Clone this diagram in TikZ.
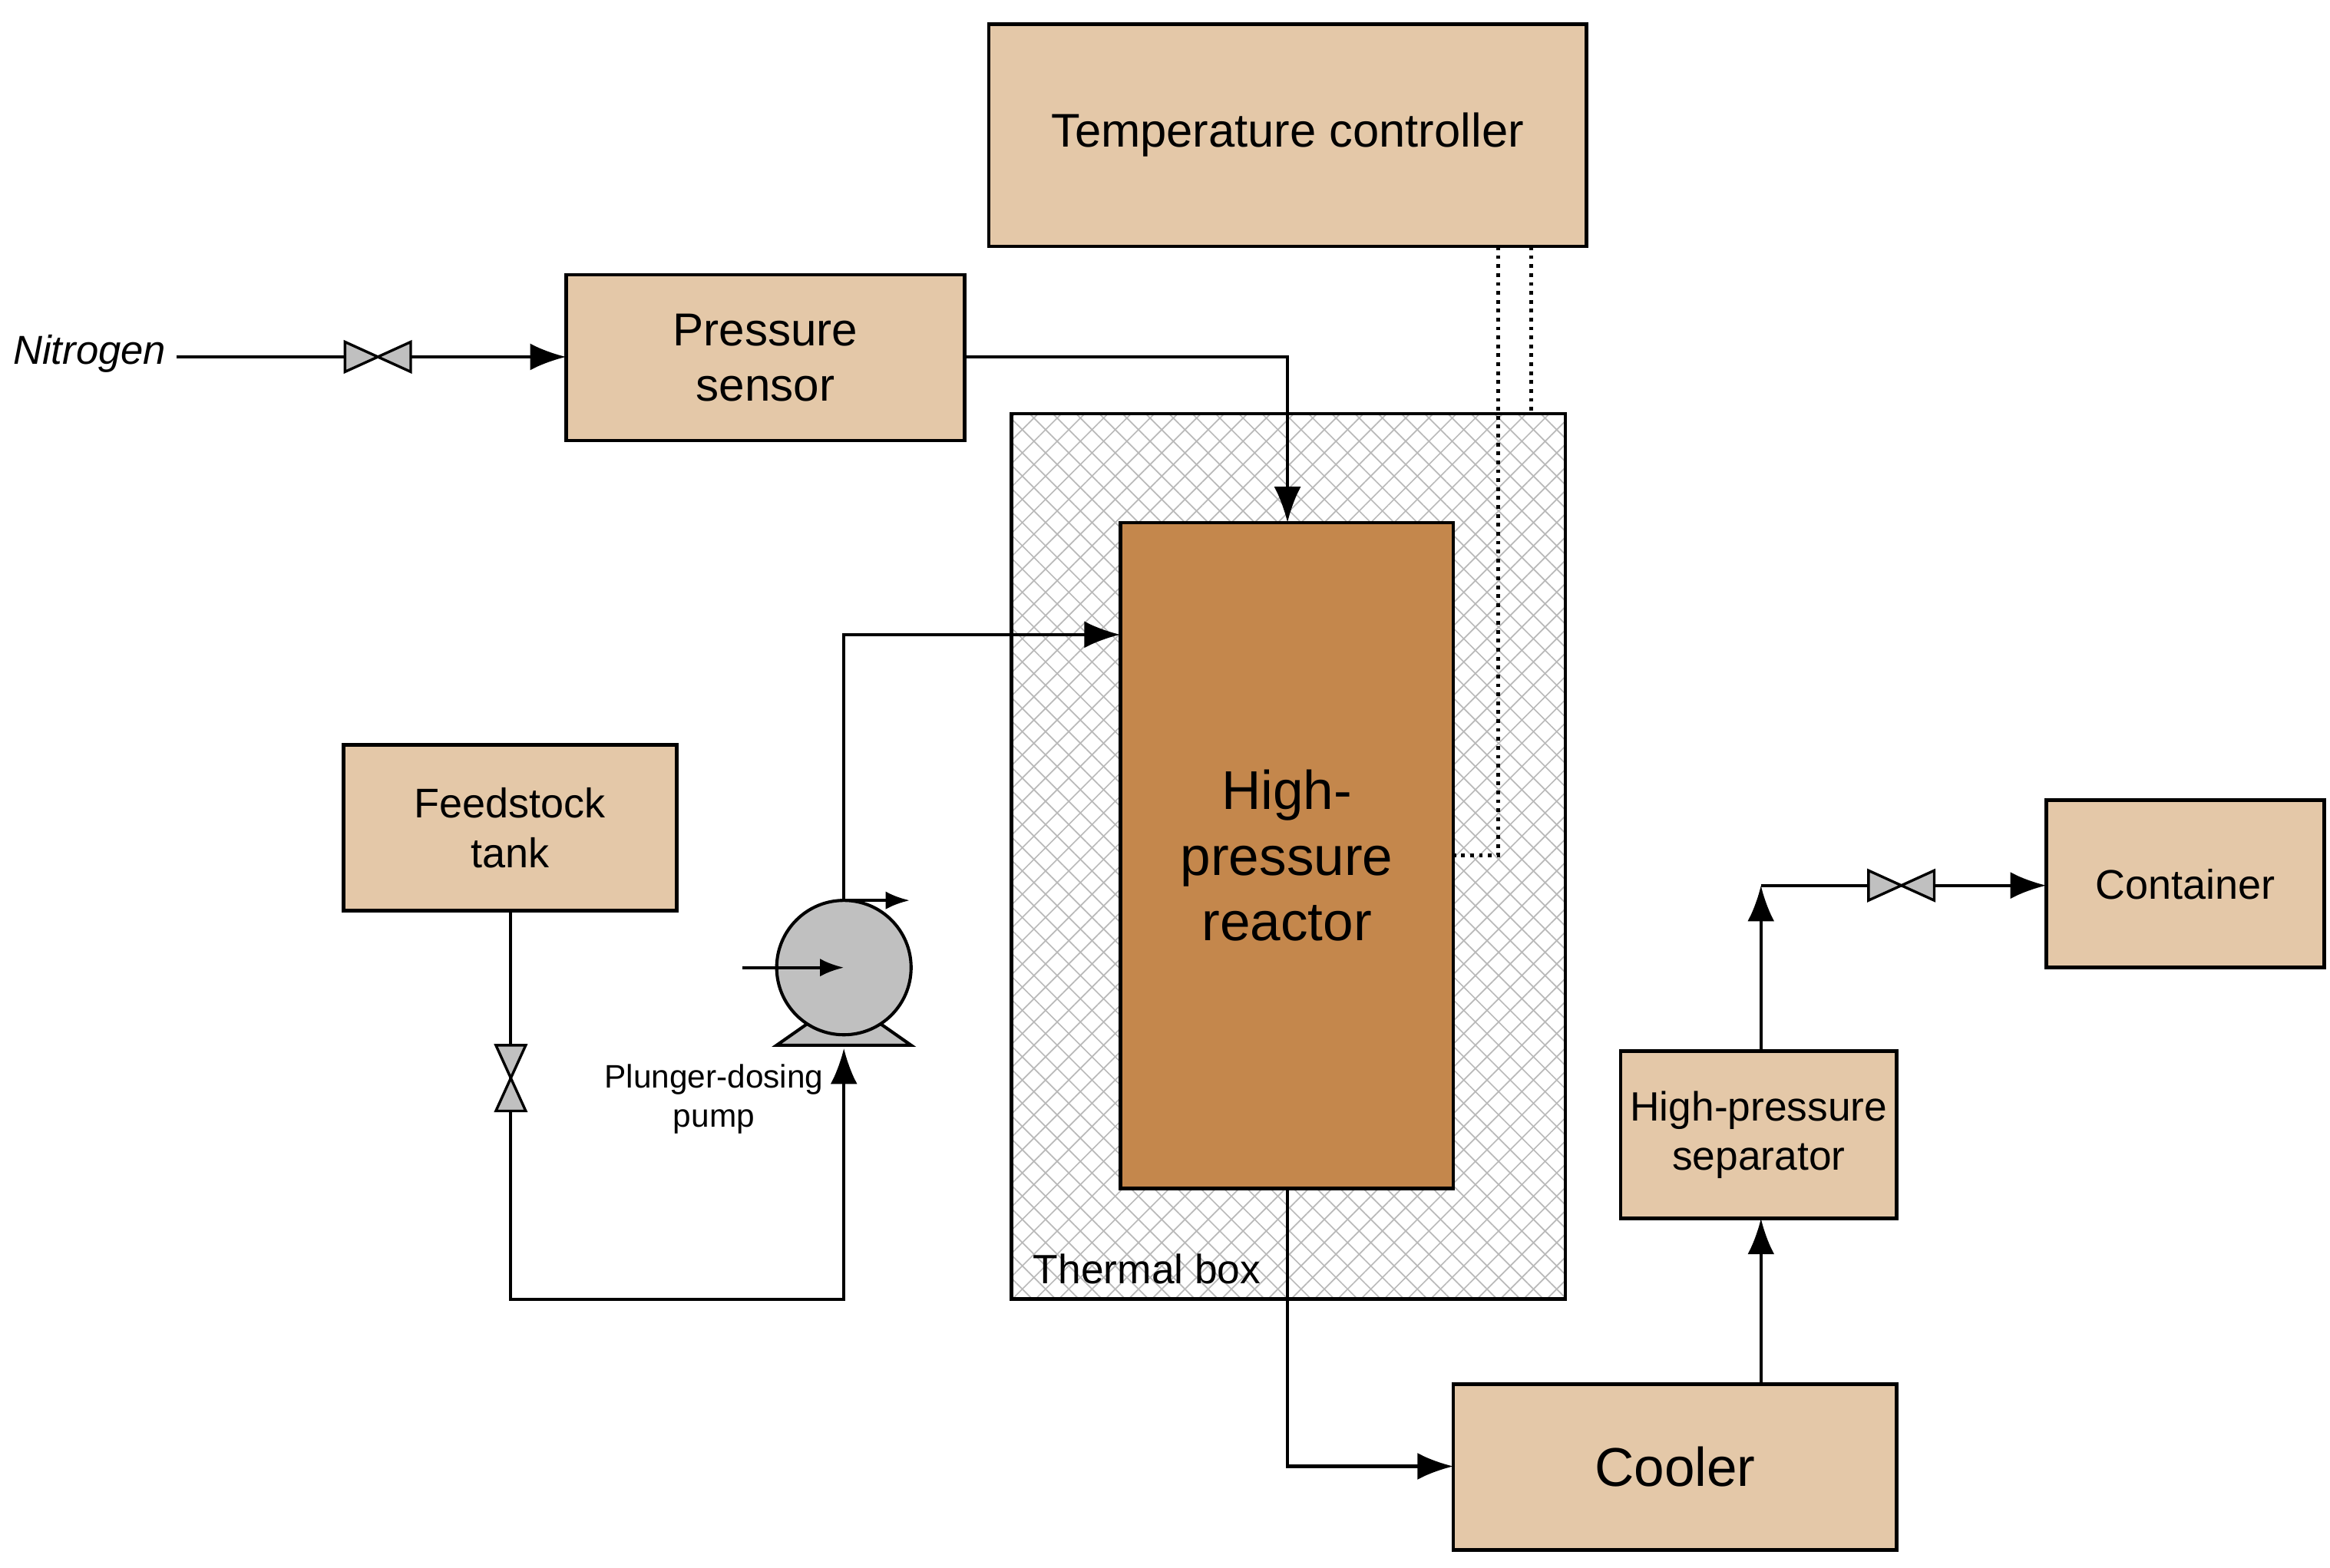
\documentclass[tikz,border=0pt]{standalone}
\usepackage{fontspec}
\setmainfont{Liberation Sans}
\usetikzlibrary{arrows.meta,patterns.meta}
\definecolor{boxc}{HTML}{E4C8A8}
\definecolor{reac}{HTML}{C4874C}
\definecolor{pumpc}{HTML}{C0C0C0}
\begin{document}
\begin{tikzpicture}[x=0.1mm,y=-0.1mm,line width=0.6pt,
  box/.style={draw,fill=boxc,line width=0.7pt},
  arr/.style={-{Latex[length=2.4mm,width=1.8mm]}},
  fs/.style={font=\fontsize{#1}{\dimexpr#1pt*12/10\relax}\selectfont,align=center}]
\useasboundingbox (0,0) rectangle (1560,1050);
\tikzset{bow/.pic={\draw[fill=pumpc,line width=0.5pt] (-22,-10)--(22,10)--(22,-10)--(-22,10)--cycle;}}
% thermal box
\fill[pattern={Lines[angle=45,distance=1.1mm,line width=0.25pt]},pattern color=gray!55] (677,277) rectangle (1048,870);
\fill[pattern={Lines[angle=-45,distance=1.1mm,line width=0.25pt]},pattern color=gray!55] (677,277) rectangle (1048,870);
\draw[line width=0.7pt] (677,277) rectangle (1048,870);
\node[fs=7.8] (tb) at (768,850) {Thermal box};
% boxes
\draw[box] (662,16) rectangle (1062,165) node[midway,fs=9] (tc) {Temperature controller};
\draw[box] (379,184) rectangle (646,295) node[midway,fs=8.8] (ps) {Pressure\\sensor};
\draw[box,fill=reac] (750,350) rectangle (973,796) node[midway,fs=10.4] (re) {High-\\pressure\\reactor};
\draw[box] (230,499) rectangle (453,610) node[midway,fs=7.9] (ft) {Feedstock\\tank};
\draw[box] (1370,536) rectangle (1556,648) node[midway,fs=7.9] (ct) {Container};
\draw[box] (1085,704) rectangle (1270,816) node[midway,fs=7.8] (hs) {High-pressure\\separator};
\draw[box] (973,927) rectangle (1270,1038) node[midway,fs=10.4] (co) {Cooler};
% coordinates
\coordinate (ps-r) at (646,239); \coordinate (ps-l) at (379,239);
\coordinate (re-t) at (862,350); \coordinate (re-b) at (862,796);
\coordinate (re-l) at (750,425); \coordinate (re-r) at (973,573);
\coordinate (n2) at (118,239);
% nitrogen
\node[font=\fontsize{7.7}{9.5}\selectfont\itshape] (nit) at (60,237) {Nitrogen};
\draw[arr] (n2) -- (ps-l);
\pic at (253,239) {bow};
\draw[arr] (ps-r) -| (re-t);
% dotted
\draw[densely dotted,line width=0.7pt] (1003,165) |- (re-r);
\draw[densely dotted,line width=0.7pt] (1025,165) -- (1025,277);
% pump
\draw[fill=pumpc] (520,700) -- (610,700) -- (590,686) -- (540,686) -- cycle;
\draw[fill=pumpc] (565,648) circle (45);
\coordinate (pu-t) at (565,603); \coordinate (pu-b) at (565,702);
\draw[arr] (pu-t) |- (re-l);
\draw[-{Latex[length=1.6mm,width=1.2mm]}] (pu-t) -- (609,603);
\draw[-{Latex[length=1.6mm,width=1.2mm]}] (497,648) -- (565,648);
\node[fs=6.2] (pl) at (478,736) {Plunger-dosing\\pump};
% feed line
\coordinate (ft-b) at (342,610);
\draw[arr] (ft-b) -- (342,870) -| (pu-b);
\pic[rotate=90] at (342,722) {bow};
% outlet
\coordinate (co-l) at (973,982);
\draw[arr] (re-b) |- (co-l);
\draw[arr] (1179,927) -- (1179,816);
\draw[arr] (1179,704) -- (1179,593);
\draw[arr] (1179,593) -- (1370,593);
\pic at (1273,593) {bow};
\end{tikzpicture}
\end{document}
